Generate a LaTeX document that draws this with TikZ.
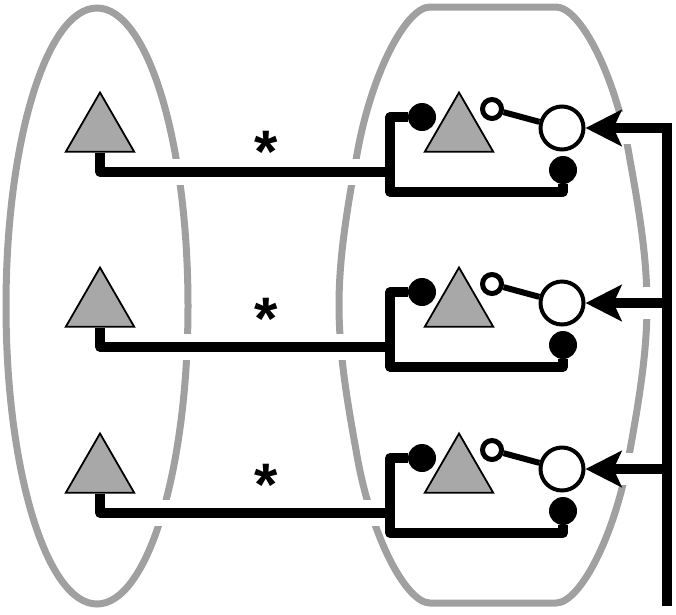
\documentclass[tikz,border=0pt]{standalone}
\usepackage{fontspec}
\setmainfont{Liberation Sans}
\usetikzlibrary{shapes.geometric,arrows.meta}
\pgfdeclarelayer{background}
\pgfdeclarelayer{halo}
\pgfsetlayers{background,halo,main}
\definecolor{hullgray}{HTML}{A0A0A0}
\definecolor{cellgray}{HTML}{A8A8A8}

\begin{document}
\begin{tikzpicture}[x=1pt,y=-1pt]
  % Parameters
  \def\trunkx{667}
  \def\bracketx{390}

  % Styles
  \tikzset{
    hull/.style={draw=hullgray, line width=7},
    wire/.style={line width=9.5, line join=round},
    halo/.style={draw=white, line width=26},
    tri/.style={regular polygon, regular polygon sides=3, minimum size=79,
      inner sep=0, draw, line width=1.8, fill=cellgray},
    dot/.style={circle, fill=black, minimum size=28, inner sep=0},
    ring/.style={circle, draw, line width=5, fill=white, minimum size=19, inner sep=0},
    soma/.style={circle, draw, line width=4, fill=white, minimum size=43, inner sep=0},
    head/.style={-{Stealth[length=36pt, width=36pt, inset=8pt]}},
    star/.style={font=\bfseries\fontsize{60}{60}\selectfont, inner sep=0}
  }

  \useasboundingbox (0,0) rectangle (676,614);

  % Draw the three rows
  \foreach \i/\r/\sy in {1/0/152, 2/175/319, 3/341/485} {
    \node[tri] (lt\i) at (100,132+\r) {};
    \node[tri] (rt\i) at (459,132+\r) {};
    \node[dot] (d\i) at (422,117+\r) {};
    \node[dot] (e\i) at (563,170+\r) {};
    \node[ring] (s\i) at (492,109+\r) {};
    \node[soma] (c\i) at (562,128+\r) {};
    \node[star] (st\i) at (266,\sy) {*};
    \coordinate (bt\i) at (\bracketx,117+\r);
    \coordinate (bb\i) at (\bracketx,192+\r);
    \coordinate (bm\i) at (\bracketx,172+\r);
    \coordinate (j\i) at (\trunkx,128+\r);

    \draw[wire] (lt\i.south) |- (bm\i);
    \draw[wire] (d\i) -- (bt\i) -- (bb\i) -| (e\i);
    \draw[line width=6] (s\i) -- (c\i);
  }

  % Trunk and arrows
  \coordinate (foot) at (\trunkx,606);
  \draw[wire, line join=miter, head] (foot) -- (j1) -- (c1);
  \foreach \i in {2,3} {
    \draw[wire, head] (j\i) -- (c\i);
  }

  % White gaps where the wires cross the outlines
  \begin{pgfonlayer}{halo}
    \foreach \i in {1,2,3} {
      \draw[halo] (lt\i.south) |- (bm\i);
      \draw[halo, line width=32] (j\i) -- (c\i);
    }
  \end{pgfonlayer}

  % Outlines
  \begin{pgfonlayer}{background}
    \draw[hull] (97,306) ellipse [x radius=91, y radius=298];
    \draw[hull] (430,7) -- (556,7)
      .. controls (580,7) and (616,75) .. (630,160)
      .. controls (640,215) and (647,260) .. (647,305)
      .. controls (647,350) and (640,395) .. (630,450)
      .. controls (616,535) and (580,603) .. (556,603)
      -- (430,603)
      .. controls (406,603) and (370,535) .. (356,450)
      .. controls (346,395) and (339,350) .. (339,305)
      .. controls (339,260) and (346,215) .. (356,160)
      .. controls (370,75) and (406,7) .. (430,7) -- cycle;
  \end{pgfonlayer}
\end{tikzpicture}
\end{document}
